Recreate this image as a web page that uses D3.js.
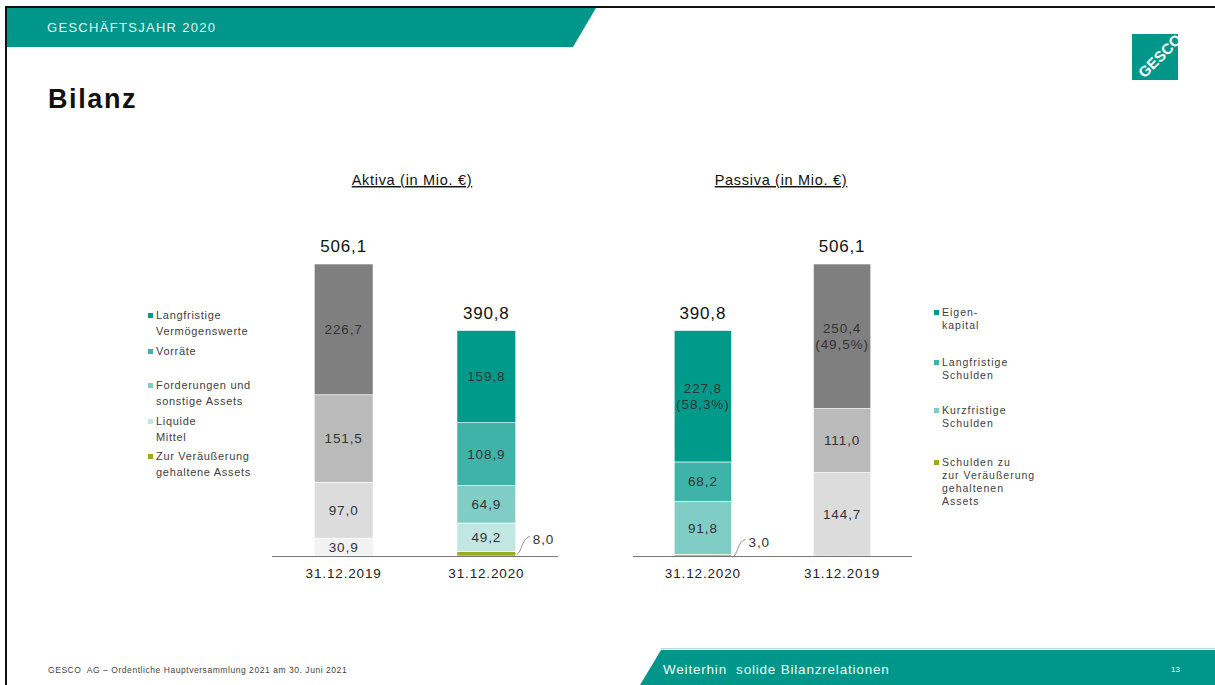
<!DOCTYPE html>
<html>
<head>
<meta charset="utf-8">
<script src="https://cdn.jsdelivr.net/npm/d3@7"></script>
<style>
  body { margin: 0; background: #fff; }
  svg { display: block; font-family: "Liberation Sans", Arial, sans-serif; }
</style>
</head>
<body>
<div id="chart"></div>
<script>
// data (Mio. €), stacked from the bottom up
const aktivaDates = ["31.12.2019", "31.12.2020"];
const aktivaCats = ["Zur Veräußerung gehaltene Assets", "Liquide Mittel", "Forderungen und sonstige Assets", "Vorräte", "Langfristige Vermögenswerte"];
const aktiva2019 = [0, 30.9, 97.0, 151.5, 226.7];
const aktiva2020 = [8.0, 49.2, 64.9, 108.9, 159.8];

const passivaDates = ["31.12.2020", "31.12.2019"];
const passivaCats = ["Schulden zu zur Veräußerung gehaltenen Assets", "Kurzfristige Schulden", "Langfristige Schulden", "Eigenkapital"];
const passiva2020 = [3.0, 91.8, 68.2, 227.8];
const passiva2019 = [0, 144.7, 111.0, 250.4];

const aktivaLegend = [["Langfristige", "Vermögenswerte"], ["Vorräte"], ["Forderungen und", "sonstige Assets"], ["Liquide", "Mittel"], ["Zur Veräußerung", "gehaltene Assets"]];
const passivaLegend = [["Eigen-", "kapital"], ["Langfristige", "Schulden"], ["Kurzfristige", "Schulden"], ["Schulden zu", "zur Veräußerung", "gehaltenen", "Assets"]];

let width = 1215, height = 685;
let teal = ["#99ad1c", "#c2e6e2", "#80cdc5", "#40b3a8", "#009a8b"];
let grey = ["#9aa", "#f2f2f2", "#dcdcdc", "#bababa", "#7f7f7f"];

let svg = d3.select("#chart").append("svg")
    .attr("width", width).attr("height", height);

// slide frame + header band
svg.append("rect").attr("x", 5).attr("y", 6).attr("width", width).attr("height", 2).attr("fill", "#111");
svg.append("rect").attr("x", 5).attr("y", 6).attr("width", 2).attr("height", height).attr("fill", "#111");
svg.append("path").attr("d", "M7,8 L596,8 L573,47 L7,47 Z").attr("fill", "#00978a");
svg.append("text").attr("x", 47).attr("y", 32).text("GESCHÄFTSJAHR 2020")
    .attr("fill", "#e6f4f2").style("font-size", "13px").style("letter-spacing", "1.3px");

svg.append("text").attr("x", 48).attr("y", 108).text("Bilanz")
    .style("font-size", "27px").style("font-weight", "bold").style("letter-spacing", "1.6px").attr("fill", "#111");

// logo
let logo = svg.append("g");
logo.append("rect").attr("x", 1132).attr("y", 34).attr("width", 46).attr("height", 46).attr("fill", "#00978a");
logo.append("text").attr("transform", "translate(1160,56) rotate(-45)")
    .attr("text-anchor", "middle").attr("dy", "0.35em").text("GESCO")
    .attr("fill", "#fff").style("font-size", "15px").style("font-weight", "bold");

// footer
svg.append("path").attr("d", "M661,650 L1215,650 L1215,685 L640,685 Z").attr("fill", "#00978a");
svg.append("line").attr("x1", 661).attr("x2", 1215).attr("y1", 648.5).attr("y2", 648.5).attr("stroke", "#b5dcd7");
svg.append("text").attr("x", 663).attr("y", 674).text("Weiterhin  solide Bilanzrelationen")
    .attr("fill", "#f2faf9").style("white-space", "pre")
    .style("font-size", "13.5px").style("letter-spacing", "0.8px");
svg.append("text").attr("x", 1171).attr("y", 672).text("13").attr("fill", "#f2faf9").style("font-size", "8px");
svg.append("text").attr("x", 48).attr("y", 673).text("GESCO  AG – Ordentliche Hauptversammlung 2021 am 30. Juni 2021")
    .attr("fill", "#444").style("white-space", "pre")
    .style("font-size", "8.5px").style("letter-spacing", "0.55px");

// shared value scale
let baseY = 556;
let y = d3.scaleLinear().domain([0, 506.1]).range([baseY, 264]);
let fmt = v => d3.format(".1f")(v).replace(".", ",");

function panel(title, cx, range, dates, series, palettes, eigenIdx) {
    let x = d3.scaleBand().domain(dates).range(range).paddingInner(0.588).paddingOuter(0.296);
    let g = svg.append("g");

    g.append("text").attr("x", cx).attr("y", 185).attr("text-anchor", "middle").text(title)
        .style("font-size", "14.5px").style("letter-spacing", "0.7px")
        .style("text-decoration", "underline").attr("fill", "#111");

    series.forEach((vals, i) => {
        let date = dates[i];
        let stack = [];
        let acc = 0;
        vals.forEach((v, k) => { stack.push({v: v, k: k, y0: acc, y1: acc + v}); acc += v; });
        let total = acc;
        let cxBar = x(date) + x.bandwidth() / 2;

        g.selectAll(null).data(stack.filter(d => d.v > 0)).enter()
            .append("rect")
            .attr("x", x(date)).attr("width", x.bandwidth())
            .attr("y", d => y(d.y1)).attr("height", d => y(d.y0) - y(d.y1))
            .attr("fill", d => palettes[i][d.k])
            .attr("stroke", "#fff").attr("stroke-width", 0.6);

        // labels inside the segments
        stack.filter(d => d.v >= 20).forEach(d => {
            let my = (y(d.y0) + y(d.y1)) / 2;
            let t = g.append("text").attr("x", cxBar)
                .attr("text-anchor", "middle").attr("fill", "#333")
                .style("font-size", "13.5px").style("letter-spacing", "0.9px");
            if (d.k === eigenIdx) {
                t.append("tspan").attr("x", cxBar).attr("y", my - 3).text(fmt(d.v));
                t.append("tspan").attr("x", cxBar).attr("y", my + 13)
                    .text("(" + fmt(d.v / total * 100) + "%)");
            } else {
                t.attr("y", my).attr("dy", "0.35em").text(fmt(d.v));
            }
        });

        // callout for the thin bottom segment
        stack.filter(d => d.v > 0 && d.v < 20).forEach(d => {
            let x0 = x(date) + x.bandwidth() + 1, y0 = y(d.y1) + 1;
            g.append("path")
                .attr("d", `M${x0},${y0 + 2} C${x0 + 5},${y0} ${x0 + 5},${y0 - 14} ${x0 + 13},${y0 - 16}`)
                .attr("fill", "none").attr("stroke", "#777").attr("stroke-width", 0.8);
            g.append("text").attr("x", x0 + 16).attr("y", y0 - 13).attr("dy", "0.35em")
                .text(fmt(d.v)).attr("fill", "#333")
                .style("font-size", "13.5px").style("letter-spacing", "0.9px");
        });

        g.append("text").attr("x", cxBar).attr("y", y(total) - 12)
            .attr("text-anchor", "middle").text(fmt(total))
            .attr("fill", "#111").style("font-size", "17px").style("letter-spacing", "0.8px");
    });

    g.append("line").attr("x1", range[0]).attr("x2", range[1]).attr("y1", baseY + 0.5).attr("y2", baseY + 0.5)
        .attr("stroke", "#777").attr("stroke-width", 1.2);

    g.selectAll(null).data(dates).enter().append("text")
        .attr("x", d => x(d) + x.bandwidth() / 2).attr("y", 578).attr("text-anchor", "middle")
        .text(d => d).attr("fill", "#222").style("font-size", "13.5px").style("letter-spacing", "0.85px");
}

panel("Aktiva (in Mio. €)", 412, [272, 558], aktivaDates, [aktiva2019, aktiva2020], [grey, teal], -1);
panel("Passiva (in Mio. €)", 781, [633, 912], passivaDates, [passiva2020, passiva2019],
    [teal.slice(0, 1).concat(teal.slice(2)), grey.slice(0, 1).concat(grey.slice(2))], 3);

// legends
function legend(items, colors, x0, ys, lineH, size, ls) {
    items.forEach((lines, i) => {
        svg.append("rect").attr("x", x0).attr("y", ys[i] - 6).attr("width", 5).attr("height", 5).attr("fill", colors[i]);
        let t = svg.append("text").attr("fill", "#404040")
            .style("font-size", size + "px").style("letter-spacing", ls + "px");
        lines.forEach((l, j) => t.append("tspan").attr("x", x0 + 8).attr("y", ys[i] + j * lineH).text(l));
    });
}
legend(aktivaLegend, [teal[4], teal[3], teal[2], teal[1], teal[0]], 148, [319, 355, 389, 425, 460], 16, 11, 0.7);
legend(passivaLegend, [teal[4], teal[3], teal[2], teal[0]], 934, [316, 366, 414, 466], 13, 10.5, 1);
</script>
</body>
</html>
